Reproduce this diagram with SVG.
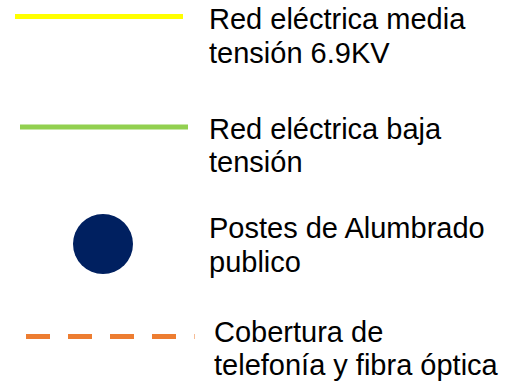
<svg xmlns="http://www.w3.org/2000/svg" width="519" height="385" viewBox="0 0 519 385">
<style>
text{font-family:"Liberation Sans",Arial,sans-serif;font-size:29px;fill:#000}
.ln{fill:none;stroke-width:5}
</style>
<rect width="519" height="385" fill="#fff"/>
<g id="connectors">
<line id="media" class="ln" x1="15" y1="16.5" x2="183" y2="16.5" stroke="#FFFF00"/>
<line id="baja" class="ln" x1="20" y1="127" x2="188" y2="127" stroke="#92D050"/>
<line id="fibra" class="ln" x1="26" y1="336.5" x2="194.5" y2="336.5" stroke="#ED7D31" stroke-dasharray="24 18"/>
</g>
<g id="poste"><circle cx="103" cy="244" r="30" fill="#002060"/></g>
<g id="label-media"><text x="209" y="29">Red eléctrica media</text><text x="209" y="63">tensión 6.9KV</text></g>
<g id="label-baja"><text x="209" y="139">Red eléctrica baja</text><text x="209" y="172">tensión</text></g>
<g id="label-poste"><text x="209" y="238">Postes de Alumbrado</text><text x="209" y="272">publico</text></g>
<g id="label-fibra"><text x="214" y="342">Cobertura de</text><text x="214" y="375">telefonía y fibra óptica</text></g>
</svg>
